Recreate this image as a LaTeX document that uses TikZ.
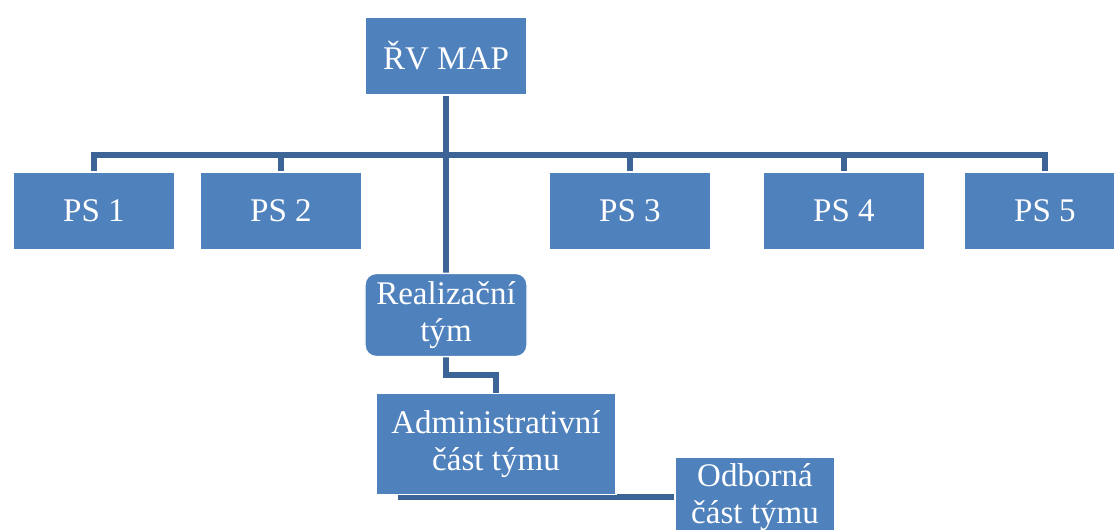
\documentclass[tikz,border=0pt]{standalone}
\usepackage{fontspec}
\setmainfont{Liberation Serif}
\usepackage{xcolor}
\usetikzlibrary{positioning, backgrounds}
\definecolor{boxblue}{HTML}{4F81BD}
\definecolor{linkblue}{HTML}{3C6496}
\tikzset{
  orgbox/.style={fill=boxblue, draw=white, line width=1pt, text=white,
    minimum width=4.05cm, minimum height=1.95cm, align=center, inner sep=2pt,
    font=\fontsize{23.5}{26}\selectfont},
  link/.style={draw=linkblue, line width=3.6pt},
}

\begin{document}
\begin{tikzpicture}[x=0.025cm, y=-0.025cm]
    \useasboundingbox (0,0) rectangle (1114,530);
    \clip (0,0) rectangle (1114,530);
    % top level
    \node[orgbox] (rv) at (446,56) {ŘV MAP};
    % working groups
    \node[orgbox] (ps1) at (94,211) {PS 1};
    \node[orgbox] (ps2) at (281,211) {PS 2};
    \node[orgbox] (ps3) at (630,211) {PS 3};
    \node[orgbox] (ps4) at (844,211) {PS 4};
    \node[orgbox] (ps5) at (1045,211) {PS 5};
    % team
    \node[orgbox, rounded corners=8pt, minimum height=2.08cm] (rea) at (446,315) {Realizační\\tým};
    \node[orgbox, minimum width=6cm, minimum height=2.52cm] (adm) at (496,444) {Administrativní\\část týmu};
    \node[orgbox, minimum width=4cm, minimum height=2cm] (odb) at (755,497) {Odborná\\část týmu};
    \coordinate (bus) at (446,155);
    \coordinate (elbow) at (0,375);
    \coordinate (branch) at (398,497);
    \begin{scope}[on background layer]
      \draw[link] (rv.south) -- (rea.north);
      \draw[link] (ps1.north) -- (ps1.north |- bus) -- (ps5.north |- bus) -- (ps5.north);
      \foreach \p in {ps2, ps3, ps4}
        \draw[link] (\p.north) -- (\p.north |- bus);
      \draw[link] (rea.south) |- (adm.north |- elbow) -- (adm.north);
      \draw[link] (branch) -- (odb.west);
    \end{scope}
\end{tikzpicture}
\end{document}
